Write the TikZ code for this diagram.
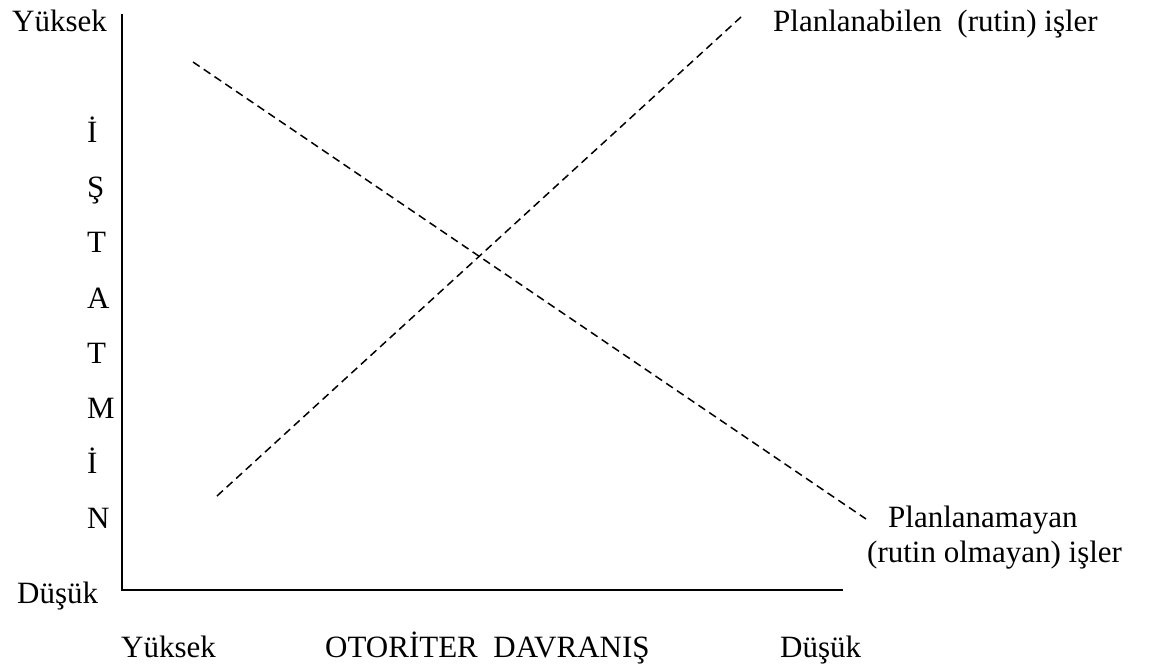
\documentclass[tikz,border=0pt]{standalone}
\usepackage{fontspec}
\setmainfont{Liberation Serif}
\usepackage{tikz}

\begin{document}
\begin{tikzpicture}[x=1pt,y=-1pt]
  \tikzstyle{tag}=[anchor=base west,inner sep=0pt,font=\fontsize{31}{36}\selectfont]
  \tikzstyle{axis}=[line width=1.8pt,black]
  \tikzstyle{trend}=[line width=1.5pt,dash pattern=on 8pt off 5pt]
  \useasboundingbox (0,0) rectangle (1150,668);
    % axes
    \coordinate (ytop) at (122,14);
    \coordinate (org) at (122,590);
    \coordinate (xend) at (843,590);
    \draw [axis] (ytop) -- (org) -- (xend);
    % vertical axis
    \node [tag] (yhigh) at (12,32) {Yüksek};
    \node [tag] (ylow) at (17,603) {Düşük};
    \foreach \ch [count=\i] in {İ,Ş,T,A,T,M,İ,N}
      \node [tag] (v\i) at (87,{88+55*\i}) {\ch};
    % horizontal axis
    \node [tag] (xhigh) at (121,657) {Yüksek};
    \node [tag] (xtitle) at (325,657) {OTORİTER~ DAVRANIŞ};
    \node [tag] (xlow) at (780,657) {Düşük};
    % lines
    \coordinate (r1) at (217,496);
    \coordinate (r2) at (741,17);
    \coordinate (n1) at (193,62);
    \coordinate (n2) at (866,519);
    \draw [trend] (r1) -- (r2);
    \draw [trend] (n1) -- (n2);
    \node [tag] (rutin) at (773,32) {Planlanabilen~ (rutin) işler};
    \node [tag] (nonrutin) at (888,527) {Planlanamayan};
    \node [tag] (nonrutin2) at (867,562) {(rutin olmayan) işler};
\end{tikzpicture}
\end{document}
